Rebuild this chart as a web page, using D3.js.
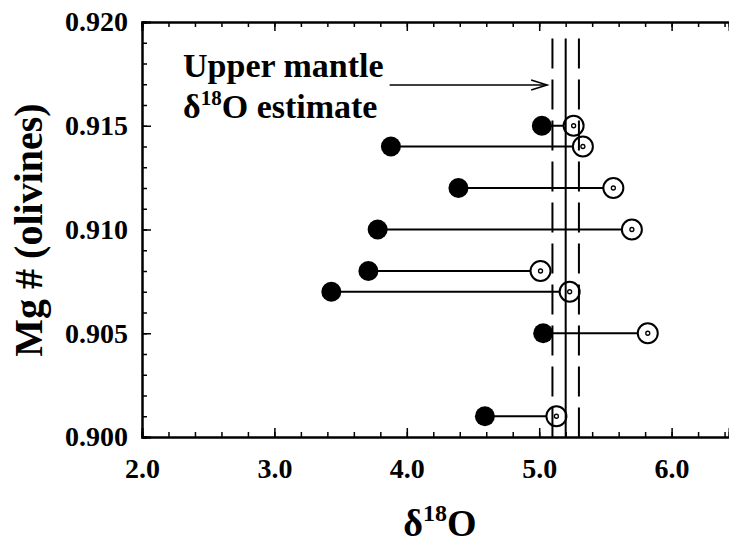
<!DOCTYPE html>
<html>
<head>
<meta charset="utf-8">
<script src="https://cdn.jsdelivr.net/npm/d3@7"></script>
<style>
  body { margin: 0; background: #fff; }
  svg { display: block; font-family: "Liberation Serif", "DejaVu Serif", serif; font-weight: bold; }
</style>
</head>
<body>
<svg id="chart" width="729" height="543"></svg>
<script>
// Mg# of olivines and the two d18O values joined by each line
const mgNumbers  = [0.915, 0.914, 0.912, 0.910, 0.908, 0.907, 0.905, 0.901];
const filledD18O = [5.02, 3.88, 4.39, 3.78, 3.71, 3.43, 5.03, 4.59];
const openD18O   = [5.26, 5.33, 5.56, 5.70, 5.01, 5.23, 5.82, 5.13];

// upper mantle estimate (solid) and its bounds (dashed)
const mantleEstimate = 5.2;
const mantleBounds = [5.1, 5.3];

const xMajorTicks = [2.0, 3.0, 4.0, 5.0, 6.0];
const yMajorTicks = [0.900, 0.905, 0.910, 0.915, 0.920];

const svg = d3.select("#chart");
const width = 729;
const height = 543;
const margin = { top: 22, right: 0, bottom: 106, left: 142 };

const x = d3.scaleLinear()
  .domain([2, 6.4335])
  .range([margin.left, width - margin.right]);

const y = d3.scaleLinear()
  .domain([0.900, 0.920])
  .range([height - margin.bottom, margin.top]);

const xMinor = d3.range(2.0, 6.45, 0.2).map(d => +d.toFixed(1));
const yMinor = d3.range(0.900, 0.9201, 0.001).map(d => +d.toFixed(3));

// bottom axis: minor then major ticks, all pointing inward
svg.append("g")
  .attr("transform", `translate(0,${y(0.900)})`)
  .call(d3.axisBottom(x).tickValues(xMinor).tickSize(-5).tickFormat(""));
svg.append("g")
  .attr("class", "xaxis")
  .attr("transform", `translate(0,${y(0.900)})`)
  .call(d3.axisBottom(x).tickValues(xMajorTicks).tickSize(-9).tickPadding(21).tickFormat(d3.format(".1f")));

// top axis
svg.append("g")
  .attr("transform", `translate(0,${y(0.920)})`)
  .call(d3.axisTop(x).tickValues(xMinor).tickSize(-5).tickFormat(""));
svg.append("g")
  .attr("transform", `translate(0,${y(0.920)})`)
  .call(d3.axisTop(x).tickValues(xMajorTicks).tickSize(-9).tickFormat(""));

// left axis
svg.append("g")
  .attr("transform", `translate(${x(2)},0)`)
  .call(d3.axisLeft(y).tickValues(yMinor).tickSize(-5).tickFormat(""));
svg.append("g")
  .attr("class", "yaxis")
  .attr("transform", `translate(${x(2)},0)`)
  .call(d3.axisLeft(y).tickValues(yMajorTicks).tickSize(-9).tickPadding(14).tickFormat(d3.format(".3f")));

svg.selectAll(".domain").attr("stroke", "#000").attr("stroke-width", 2);
svg.selectAll(".tick line").attr("stroke", "#000").attr("stroke-width", 1.5);
svg.selectAll(".xaxis text, .yaxis text")
  .attr("fill", "#000")
  .style("font-family", "'Liberation Serif', serif")
  .style("font-weight", "bold")
  .style("font-size", "28px");

// connecting lines
const rows = mgNumbers.map((m, i) => ({ mg: m, a: filledD18O[i], b: openD18O[i] }));

svg.selectAll(".link")
  .data(rows)
  .enter()
  .append("line")
  .attr("x1", d => x(d.a))
  .attr("x2", d => x(d.b))
  .attr("y1", d => y(d.mg))
  .attr("y2", d => y(d.mg))
  .attr("stroke", "#000")
  .attr("stroke-width", 2);

// filled circles
svg.selectAll(".filled")
  .data(rows)
  .enter()
  .append("circle")
  .attr("cx", d => x(d.a))
  .attr("cy", d => y(d.mg))
  .attr("r", 10)
  .attr("fill", "#000");

// open circles with a small ring inside
svg.selectAll(".open")
  .data(rows)
  .enter()
  .append("circle")
  .attr("cx", d => x(d.b))
  .attr("cy", d => y(d.mg))
  .attr("r", 10)
  .attr("fill", "#fff")
  .attr("stroke", "#000")
  .attr("stroke-width", 2);

svg.selectAll(".dot")
  .data(rows)
  .enter()
  .append("circle")
  .attr("cx", d => x(d.b))
  .attr("cy", d => y(d.mg))
  .attr("r", 2)
  .attr("fill", "#fff")
  .attr("stroke", "#000")
  .attr("stroke-width", 1.3);

// upper mantle lines
const lineTop = 0.9192;
svg.append("line")
  .attr("x1", x(mantleEstimate)).attr("x2", x(mantleEstimate))
  .attr("y1", y(lineTop)).attr("y2", y(0.900))
  .attr("stroke", "#000").attr("stroke-width", 2);

mantleBounds.forEach(v => {
  svg.append("line")
    .attr("x1", x(v)).attr("x2", x(v))
    .attr("y1", y(lineTop)).attr("y2", y(0.900))
    .attr("stroke", "#000").attr("stroke-width", 2)
    .attr("stroke-dasharray", "30,11");
});

// annotation
svg.append("text")
  .attr("x", x(2.31))
  .attr("y", 77)
  .attr("font-size", 34)
  .text("Upper mantle");

const t2 = svg.append("text")
  .attr("x", x(2.31))
  .attr("y", 118)
  .attr("font-size", 34);
t2.append("tspan").text("δ");
t2.append("tspan").attr("font-size", 21).attr("dy", -13).text("18");
t2.append("tspan").attr("dy", 13).text("O estimate");

// arrow
const arrowY = y(0.91696);
const ax1 = x(3.87), ax2 = x(5.06);
svg.append("line")
  .attr("x1", ax1).attr("x2", ax2)
  .attr("y1", arrowY).attr("y2", arrowY)
  .attr("stroke", "#000").attr("stroke-width", 1.5);
svg.append("path")
  .attr("d", `M${ax2 - 16},${arrowY - 5} L${ax2},${arrowY} L${ax2 - 16},${arrowY + 5}`)
  .attr("fill", "none")
  .attr("stroke", "#000")
  .attr("stroke-width", 1.5);

// axis titles
const xt = svg.append("text")
  .attr("x", 440)
  .attr("y", 536)
  .attr("text-anchor", "middle")
  .attr("font-size", 38);
xt.append("tspan").text("δ");
xt.append("tspan").attr("font-size", 24).attr("dy", -15).text("18");
xt.append("tspan").attr("dy", 15).text("O");

svg.append("text")
  .attr("transform", "translate(42,230) rotate(-90)")
  .attr("text-anchor", "middle")
  .attr("font-size", 40)
  .text("Mg # (olivines)");
</script>
</body>
</html>
